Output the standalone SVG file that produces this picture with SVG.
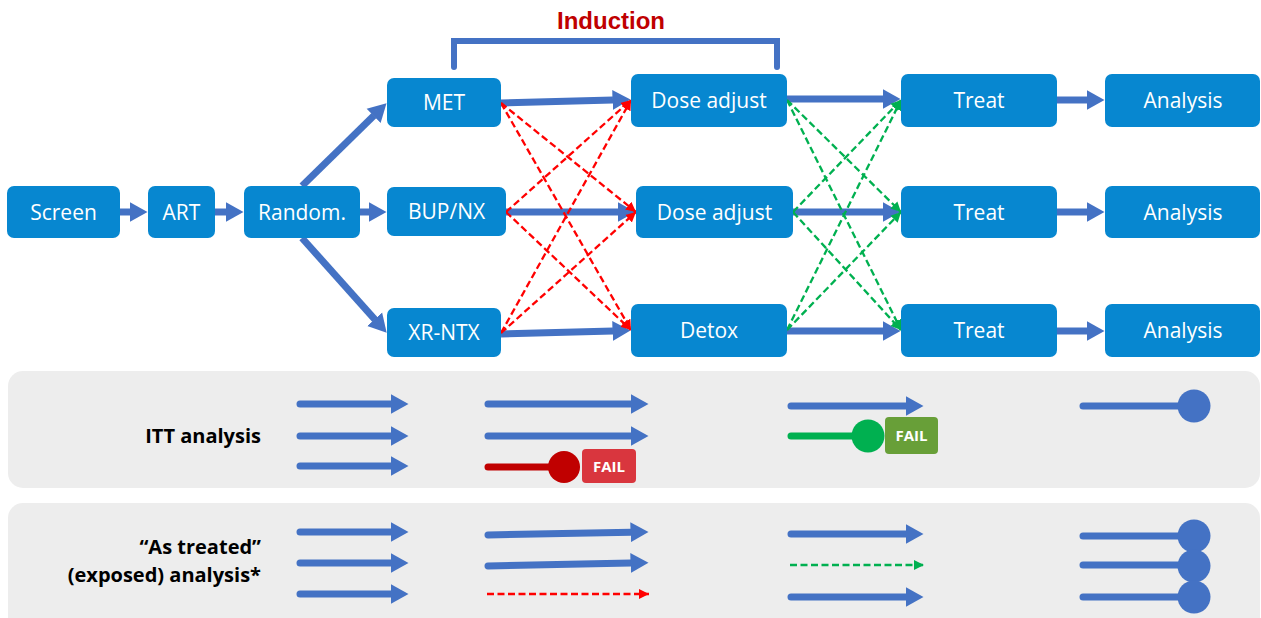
<svg xmlns="http://www.w3.org/2000/svg" width="1261" height="618" viewBox="0 0 1261 618">
<style>
.node rect{fill:#0787D0}
.node text{font-family:"Open Sans","Liberation Sans",sans-serif;font-size:21px;fill:#fff;text-anchor:middle}
.thick{stroke:#4472C4;stroke-width:7;fill:none;marker-end:url(#ah)}
.bot{stroke:#4472C4;stroke-width:7;fill:none;stroke-linecap:round;marker-end:url(#ah)}
.red{stroke:#FF0000;stroke-width:2.3;stroke-dasharray:7 3.5;fill:none;marker-end:url(#ar)}
.grn{stroke:#00B050;stroke-width:2.3;stroke-dasharray:7 3.5;fill:none;marker-end:url(#ag)}
.lbl{font-family:"Open Sans","Liberation Sans",sans-serif;font-weight:bold;font-size:20px;fill:#000;text-anchor:end}
.fail{font-family:"Open Sans","Liberation Sans",sans-serif;font-weight:bold;font-size:15px;fill:#fff;text-anchor:middle}
.panel{fill:#EDEDED}
</style>
<defs>
<marker id="ah" markerUnits="userSpaceOnUse" markerWidth="20" markerHeight="22" viewBox="0 -11 20 22" refX="0.5" refY="0" orient="auto"><path d="M0,-10 L18,0 L0,10z" fill="#4472C4"/></marker>
<marker id="ar" markerUnits="userSpaceOnUse" markerWidth="13" markerHeight="13" viewBox="0 -6.5 13 13" refX="10" refY="0" orient="auto"><path d="M0,-5 L10,0 L0,5z" fill="#FF0000"/></marker>
<marker id="ag" markerUnits="userSpaceOnUse" markerWidth="13" markerHeight="13" viewBox="0 -6.5 13 13" refX="10" refY="0" orient="auto"><path d="M0,-5 L10,0 L0,5z" fill="#00B050"/></marker>
</defs>
<rect width="1261" height="618" fill="#fff"/>

<g id="panel-itt">
<rect class="panel" x="8" y="371" width="1252" height="117" rx="15"/>
<text class="lbl" x="261" y="443">ITT analysis</text>
</g>
<g id="panel-as-treated">
<rect class="panel" x="8" y="503" width="1252" height="140" rx="15"/>
<text class="lbl" x="261" y="554">“As treated”</text>
<text class="lbl" x="261" y="582">(exposed) analysis*</text>
</g>

<g id="induction">
<path d="M454,67 L454,41 L777,41 L777,67" stroke="#4472C4" stroke-width="6" fill="none" stroke-linecap="round"/>
<text x="611" y="29" font-family="'Liberation Sans',Arial,sans-serif" font-weight="bold" font-size="24" fill="#C00000" text-anchor="middle">Induction</text>
</g>

<g id="connectors">
<line class="thick" x1="120" y1="212" x2="130" y2="212"/>
<line class="thick" x1="215" y1="212" x2="226" y2="212"/>
<line class="thick" x1="360" y1="212" x2="369" y2="212"/>
<line class="thick" x1="302" y1="186" x2="374" y2="115.6"/>
<line class="thick" x1="302" y1="238" x2="375" y2="319.6"/>
<line class="thick" x1="501" y1="103" x2="613" y2="100"/>
<line class="thick" x1="506" y1="212" x2="618" y2="212"/>
<line class="thick" x1="501" y1="334" x2="613" y2="331"/>
<line class="thick" x1="787" y1="99" x2="883" y2="99"/>
<line class="thick" x1="793" y1="212" x2="883" y2="212"/>
<line class="thick" x1="787" y1="331" x2="883" y2="331"/>
<line class="thick" x1="1057" y1="100" x2="1087" y2="100"/>
<line class="thick" x1="1057" y1="212" x2="1087" y2="212"/>
<line class="thick" x1="1057" y1="331" x2="1087" y2="331"/>

<line class="red" x1="501" y1="103" x2="636" y2="212"/>
<line class="red" x1="501" y1="103" x2="631" y2="330"/>
<line class="red" x1="506" y1="212" x2="631" y2="100"/>
<line class="red" x1="506" y1="212" x2="631" y2="330"/>
<line class="red" x1="501" y1="333" x2="631" y2="100"/>
<line class="red" x1="501" y1="333" x2="636" y2="212"/>

<line class="grn" x1="787" y1="100" x2="901" y2="212"/>
<line class="grn" x1="787" y1="100" x2="901" y2="330"/>
<line class="grn" x1="793" y1="212" x2="901" y2="100"/>
<line class="grn" x1="793" y1="212" x2="901" y2="330"/>
<line class="grn" x1="787" y1="330" x2="901" y2="100"/>
<line class="grn" x1="787" y1="330" x2="901" y2="212"/>

<!-- ITT panel -->
<line class="bot" x1="300" y1="404" x2="391" y2="404"/>
<line class="bot" x1="300" y1="436" x2="391" y2="436"/>
<line class="bot" x1="300" y1="466" x2="391" y2="466"/>
<line class="bot" x1="488" y1="404" x2="631" y2="404"/>
<line class="bot" x1="488" y1="436" x2="631" y2="436"/>
<line x1="488" y1="467" x2="563" y2="467" stroke="#C00000" stroke-width="7" stroke-linecap="round"/>
<circle cx="564" cy="467" r="16" fill="#C00000"/>
<line class="bot" x1="791" y1="406" x2="906" y2="406"/>
<line x1="791" y1="436" x2="868" y2="436" stroke="#00B050" stroke-width="7" stroke-linecap="round"/>
<circle cx="868" cy="436" r="16.5" fill="#00B050"/>
<line x1="1083" y1="406" x2="1193" y2="406" stroke="#4472C4" stroke-width="7" stroke-linecap="round"/>
<circle cx="1194" cy="406" r="16.5" fill="#4472C4"/>

<!-- As treated panel -->
<line class="bot" x1="300" y1="532" x2="391" y2="532"/>
<line class="bot" x1="300" y1="563" x2="391" y2="563"/>
<line class="bot" x1="300" y1="594" x2="391" y2="594"/>
<line class="bot" x1="488" y1="535" x2="631" y2="532.3"/>
<line class="bot" x1="488" y1="566" x2="631" y2="563"/>
<line class="red" x1="487" y1="594" x2="649" y2="594"/>
<line class="bot" x1="791" y1="534" x2="906" y2="534"/>
<line class="grn" x1="790" y1="565" x2="924" y2="565"/>
<line class="bot" x1="791" y1="597" x2="906" y2="597"/>
<line x1="1083" y1="536" x2="1193" y2="536" stroke="#4472C4" stroke-width="7" stroke-linecap="round"/>
<line x1="1083" y1="565" x2="1193" y2="565" stroke="#4472C4" stroke-width="7" stroke-linecap="round"/>
<line x1="1083" y1="597" x2="1193" y2="597" stroke="#4472C4" stroke-width="7" stroke-linecap="round"/>
<circle cx="1194" cy="536" r="16.5" fill="#4472C4"/>
<circle cx="1194" cy="566" r="16.5" fill="#4472C4"/>
<circle cx="1194" cy="597" r="16.5" fill="#4472C4"/>
</g>

<g id="fail-red"><rect x="582" y="449" width="54" height="34" rx="4" fill="#D9363E"/><text class="fail" x="609" y="471.5">FAIL</text></g>
<g id="fail-green"><rect x="885" y="417" width="53" height="37" rx="4" fill="#689F38"/><text class="fail" x="911.5" y="441">FAIL</text></g>

<g id="n-screen" class="node"><rect x="7" y="186" width="113" height="52" rx="7"/><text x="63.5" y="219.5">Screen</text></g>
<g id="n-art" class="node"><rect x="148" y="186" width="67" height="52" rx="7"/><text x="181.5" y="219.5">ART</text></g>
<g id="n-random" class="node"><rect x="244" y="186" width="116" height="52" rx="7"/><text x="302" y="219.5">Random.</text></g>
<g id="n-met" class="node"><rect x="387" y="78" width="114" height="49" rx="7"/><text x="444" y="110">MET</text></g>
<g id="n-bup" class="node"><rect x="387" y="187" width="119" height="49" rx="7"/><text x="446.5" y="219">BUP/NX</text></g>
<g id="n-xrntx" class="node"><rect x="387" y="308" width="114" height="49" rx="7"/><text x="444" y="340">XR-NTX</text></g>
<g id="n-dose1" class="node"><rect x="631" y="74" width="156" height="53" rx="7"/><text x="709" y="108">Dose adjust</text></g>
<g id="n-dose2" class="node"><rect x="636" y="186" width="157" height="52" rx="7"/><text x="714.5" y="219.5">Dose adjust</text></g>
<g id="n-detox" class="node"><rect x="631" y="304" width="156" height="53" rx="7"/><text x="709" y="338">Detox</text></g>
<g id="n-treat1" class="node"><rect x="901" y="74" width="156" height="53" rx="7"/><text x="979" y="108">Treat</text></g>
<g id="n-treat2" class="node"><rect x="901" y="186" width="156" height="52" rx="7"/><text x="979" y="219.5">Treat</text></g>
<g id="n-treat3" class="node"><rect x="901" y="304" width="156" height="53" rx="7"/><text x="979" y="338">Treat</text></g>
<g id="n-analysis1" class="node"><rect x="1105" y="74" width="155" height="53" rx="7"/><text x="1183" y="108">Analysis</text></g>
<g id="n-analysis2" class="node"><rect x="1105" y="186" width="155" height="52" rx="7"/><text x="1183" y="219.5">Analysis</text></g>
<g id="n-analysis3" class="node"><rect x="1105" y="304" width="155" height="53" rx="7"/><text x="1183" y="338">Analysis</text></g>
</svg>
